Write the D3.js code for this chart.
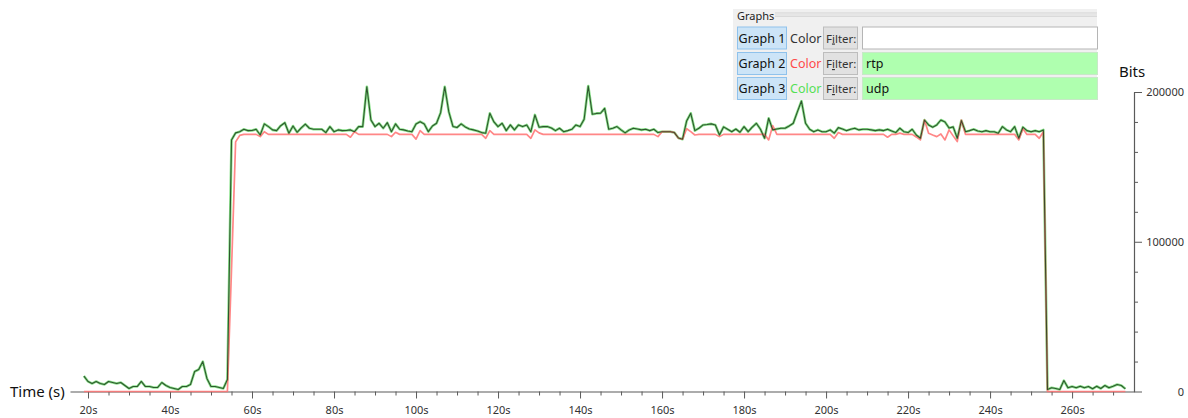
<!DOCTYPE html>
<html>
<head>
<meta charset="utf-8">
<script src="https://cdn.jsdelivr.net/npm/d3@7"></script>
<style>
  html, body { margin: 0; padding: 0; background: #ffffff; }
  svg { display: block; }
  text { font-family: "Noto Sans", "DejaVu Sans", sans-serif; }
</style>
</head>
<body>
<svg id="chart" width="1188" height="418"></svg>
<script>
// ---- data (one sample per second, starting at firstSecond) ----
const firstSecond = 19;

const udpBits = [
  10300, 6700, 5300, 6700, 5300, 4700, 6700, 6000, 5300, 6000,
  4000, 2000, 3300, 3300, 6700, 3300, 3300, 2700, 2700, 6000,
  4000, 2700, 2000, 1300, 3300, 3300, 4700, 13300, 14700, 20000,
  8700, 3300, 3300, 2700, 2000, 8000, 168000, 172700, 173500, 175100,
  174200, 174300, 175100, 171300, 178700, 176900, 174700, 174200, 177500, 179500,
  172500, 177300, 173100, 176000, 178500, 175800, 175100, 175100, 175100, 172900,
  176900, 173500, 174700, 174200, 174300, 174700, 173500, 176900, 176900, 203500,
  181300, 176900, 179100, 175800, 179500, 173500, 178700, 175100, 174700, 174000,
  173500, 178700, 180200, 178700, 173500, 177300, 179100, 186200, 203500, 186700,
  177000, 176300, 178700, 176700, 175300, 174700, 174000, 172900, 172500, 185800,
  180000, 176900, 179100, 174200, 178000, 174700, 178000, 176900, 178000, 173500,
  184700, 176500, 176900, 176900, 176000, 174200, 175800, 173500, 174200, 175100,
  178000, 176900, 181800, 204000, 185100, 185700, 185800, 189100, 175100, 175800,
  176900, 174700, 172700, 174700, 175800, 175300, 174700, 175100, 174200, 175100,
  172900, 173500, 173500, 173500, 172900, 169300, 168500, 180700, 185800, 174200,
  175800, 178000, 178300, 178700, 178000, 171300, 176700, 175100, 173500, 175300,
  173100, 176900, 173500, 176500, 179100, 175100, 169100, 182500, 174700, 175300,
  175800, 175800, 177300, 179100, 186700, 194000, 179100, 175100, 173500, 174700,
  173500, 173500, 174700, 172500, 176200, 175300, 174200, 175100, 175800, 174700,
  175100, 175100, 174700, 174200, 174700, 174200, 175100, 174000, 172900, 175800,
  173500, 172900, 175100, 171300, 169100, 181300, 178000, 176500, 178000, 181300,
  180000, 176000, 176700, 169100, 180900, 173500, 174200, 175100, 174000, 173500,
  174200, 173500, 173500, 172500, 176900, 174700, 173500, 176900, 169100, 176500,
  174200, 173500, 174200, 173500, 174700, 1300, 2500, 2000, 1300, 7300,
  2500, 3300, 2500, 3500, 2500, 3300, 1800, 3500, 2000, 4000,
  2500, 3500, 4700, 4000, 1800
];

const rtpBits = [
  0, 0, 0, 0, 0, 0, 0, 0, 0, 0,
  0, 0, 0, 0, 0, 0, 0, 0, 0, 0,
  0, 0, 0, 0, 0, 0, 0, 0, 0, 0,
  0, 0, 0, 0, 0, 0, 81300, 166700, 171000, 171700,
  171700, 171700, 171700, 170200, 173500, 171700, 171700, 171700, 171700, 171700,
  171700, 171700, 171700, 171700, 171700, 171700, 171700, 171700, 171700, 171700,
  171700, 171700, 171700, 171700, 171700, 169800, 173500, 171700, 171700, 171700,
  171700, 171700, 171700, 171700, 171700, 170200, 173100, 171700, 171700, 171700,
  171700, 168500, 174200, 171700, 171700, 171700, 171700, 171700, 171700, 171700,
  171700, 171700, 171700, 171700, 171700, 171700, 171700, 171700, 169100, 174200,
  171700, 171700, 171700, 171700, 171700, 171700, 171700, 171700, 171700, 169100,
  174700, 172700, 171700, 171700, 171700, 171700, 171700, 171700, 171700, 171700,
  171700, 171700, 171700, 171700, 171700, 171700, 171700, 171700, 171700, 171700,
  171700, 171700, 171700, 171700, 171700, 171700, 171700, 171700, 171700, 171700,
  170200, 173500, 173500, 173500, 172900, 169100, 168500, 175500, 173500, 171300,
  171700, 171700, 171700, 171700, 171700, 170200, 171700, 171700, 171700, 171700,
  171700, 171700, 171700, 171700, 171700, 171700, 171700, 168000, 177500, 171700,
  171700, 171700, 171700, 171700, 171700, 171700, 171700, 171700, 171700, 171700,
  171700, 171700, 171700, 169100, 172900, 171700, 171700, 171700, 171700, 171700,
  171700, 171700, 171700, 171700, 171700, 171700, 169800, 171700, 171700, 172500,
  171700, 171700, 171700, 170000, 168000, 181300, 172500, 171300, 170200, 172000,
  168000, 174700, 170700, 166900, 181300, 171700, 171700, 171700, 171700, 171700,
  171700, 171700, 171700, 171700, 171700, 171700, 171700, 171700, 168000, 175500,
  171700, 171700, 171700, 169100, 173500, 0, 0, 0, 0, 0,
  0, 0, 0, 0, 0, 0, 0, 0, 0, 0,
  0, 0, 0, 0, 0
];

const xMajorTicks = ["20s", "40s", "60s", "80s", "100s", "120s", "140s", "160s", "180s", "200s", "220s", "240s", "260s"];
const yTickLabels = ["0", "100000", "200000"];

const graphNames = ["Graph 1", "Graph 2", "Graph 3"];
const graphFilters = ["", "rtp", "udp"];
const graphColors = ["#333333", "#ff4a4a", "#55e055"];

// ---- layout ----
const svg = d3.select("#chart");
const times = d3.range(firstSecond, firstSecond + udpBits.length);

const x = d3.scaleLinear().domain([15.61, 275.1]).range([70, 1134]);
const y = d3.scaleLinear().domain([0, 200000]).range([391.5, 92]);

// ---- axes ----
const xAxis = d3.axisBottom(x)
  .tickValues(d3.range(20, 275, 5))
  .tickSizeOuter(0)
  .tickFormat(d => (d % 20 === 0 ? xMajorTicks[(d - 20) / 20] : ""));

const gx = svg.append("g").attr("transform", "translate(0,391.5)").call(xAxis);
gx.select(".domain").attr("stroke", "#5a5a5a").attr("stroke-width", 1.2);
gx.selectAll(".tick line")
  .attr("stroke", "#5a5a5a")
  .attr("y2", d => (d % 20 === 0 ? 7 : 4));
gx.selectAll(".tick text")
  .attr("y", 15)
  .attr("fill", "#333")
  .style("font-size", "11px");

const yAxis = d3.axisRight(y)
  .tickValues(d3.range(0, 200001, 20000))
  .tickSizeOuter(0)
  .tickFormat(d => (d % 100000 === 0 ? yTickLabels[d / 100000] : ""));

const gy = svg.append("g").attr("transform", "translate(1134,0)").call(yAxis);
gy.select(".domain").attr("stroke", "#5a5a5a").attr("stroke-width", 1.2);
gy.selectAll(".tick line")
  .attr("stroke", "#5a5a5a")
  .attr("x2", d => (d % 100000 === 0 ? 8 : 4));
gy.selectAll(".tick text")
  .attr("x", 50)
  .attr("text-anchor", "end")
  .attr("fill", "#333")
  .style("font-size", "11px");

svg.append("text").attr("x", 10).attr("y", 396.5)
  .attr("fill", "#111").style("font-size", "15px").text("Time (s)");
svg.append("text").attr("x", 1119).attr("y", 77)
  .attr("fill", "#111").style("font-size", "15px").text("Bits");

// ---- lines ----
const line = d3.line().x(d => x(d[0])).y(d => y(d[1]));
const udpPts = times.map((t, i) => [t, udpBits[i]]);
const rtpPts = times.map((t, i) => [t, rtpBits[i]]);

svg.append("path").datum(udpPts).attr("d", line)
  .attr("fill", "none").attr("stroke", "#62d862").attr("stroke-width", 2.6)
  .attr("stroke-linejoin", "round").attr("opacity", 0.75);
svg.append("path").datum(rtpPts).attr("d", line)
  .attr("fill", "none").attr("stroke", "#ff7272").attr("stroke-width", 1.7)
  .attr("stroke-linejoin", "round").attr("opacity", 0.85);
svg.append("path").datum(udpPts).attr("d", line)
  .attr("fill", "none").attr("stroke", "#1f3d1f").attr("stroke-width", 1.1)
  .attr("stroke-linejoin", "round").attr("opacity", 0.85);

// ---- graphs panel (overlay) ----
const panel = svg.append("g");
panel.append("rect").attr("x", 733).attr("y", 9).attr("width", 364).attr("height", 91).attr("fill", "#f0f0f0");
panel.append("text").attr("x", 737).attr("y", 20).attr("fill", "#222").style("font-size", "11px").text("Graphs");
panel.append("line").attr("x1", 775).attr("x2", 1097).attr("y1", 13).attr("y2", 13).attr("stroke", "#d2d2d2");
panel.append("line").attr("x1", 775).attr("x2", 1097).attr("y1", 16.5).attr("y2", 16.5).attr("stroke", "#dadada");
panel.append("rect").attr("x", 775).attr("y", 13.5).attr("width", 322).attr("height", 2.5).attr("fill", "#e6e6e6");

const rowTops = [27, 52.5, 77.5];
graphNames.forEach((name, i) => {
  const top = rowTops[i];
  const row = panel.append("g");
  row.append("rect").attr("x", 737.5).attr("y", top).attr("width", 49).attr("height", 22)
    .attr("fill", "#cce4f7").attr("stroke", "#8fc2ec");
  row.append("text").attr("x", 762).attr("y", top + 15.5).attr("text-anchor", "middle")
    .attr("fill", "#111").style("font-size", "12.5px").text(name);
  row.append("text").attr("x", 790).attr("y", top + 15.5)
    .attr("fill", graphColors[i]).style("font-size", "12.5px").text("Color");
  row.append("rect").attr("x", 823.5).attr("y", top).attr("width", 34).attr("height", 22)
    .attr("fill", "#e1e1e1").attr("stroke", "#bdbdbd");
  const ft = row.append("text").attr("x", 826).attr("y", top + 15.5)
    .attr("fill", "#333").style("font-size", "11.5px");
  ft.append("tspan").text("F");
  ft.append("tspan").attr("text-decoration", "underline").text("i");
  ft.append("tspan").text("lter:");
  row.append("rect").attr("x", 862.5).attr("y", top).attr("width", 235).attr("height", 22)
    .attr("fill", graphFilters[i] === "" ? "#ffffff" : "#afffaf")
    .attr("stroke", graphFilters[i] === "" ? "#b5b5b5" : "#c8e8c8");
  row.append("text").attr("x", 866).attr("y", top + 15.5)
    .attr("fill", "#111").style("font-size", "12.5px").text(graphFilters[i]);
});
</script>
</body>
</html>
